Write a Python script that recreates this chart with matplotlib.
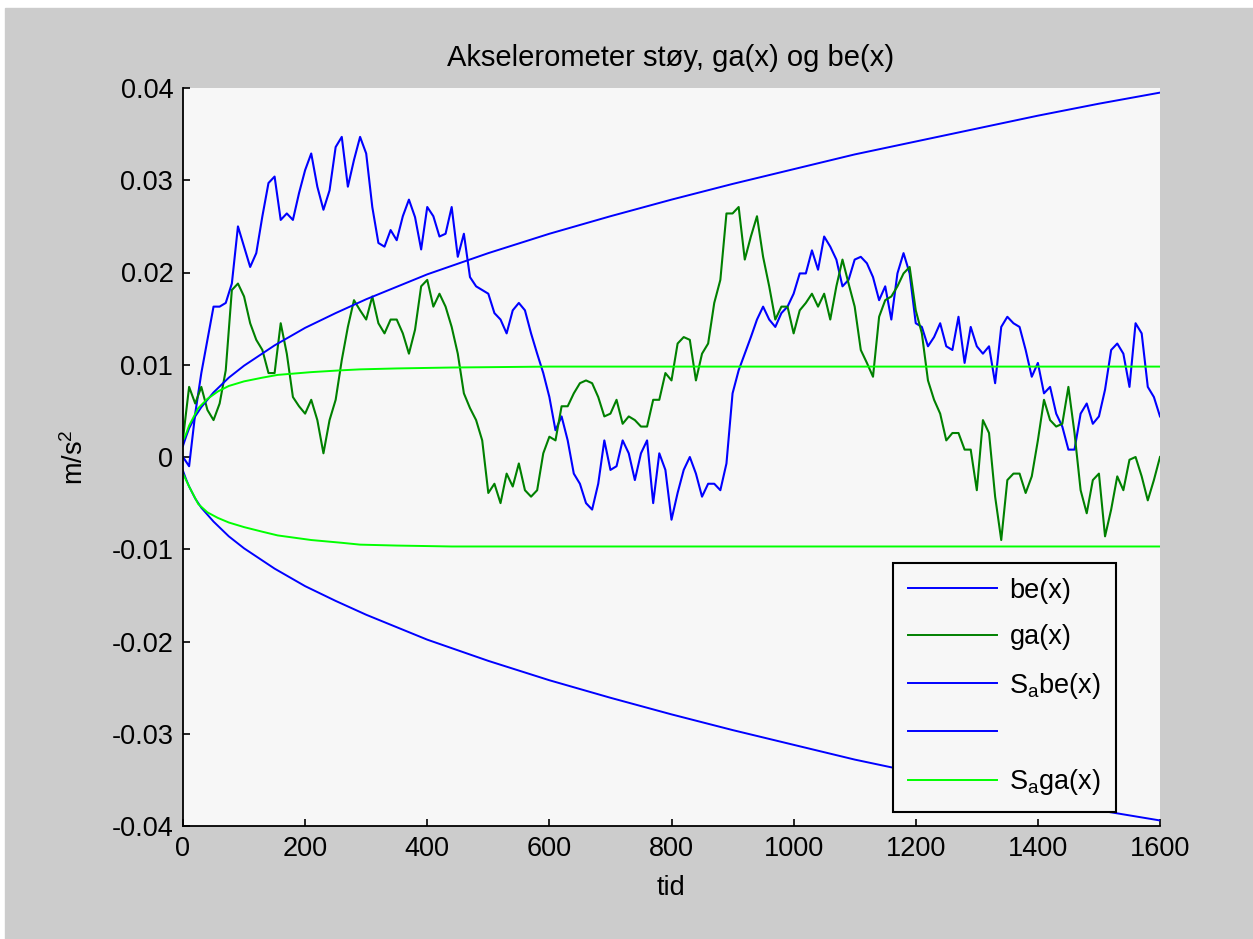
import numpy as np
import matplotlib
matplotlib.use("Agg")
import matplotlib.pyplot as plt
from matplotlib.lines import Line2D
from matplotlib.patches import Rectangle

plt.rcParams["font.family"] = ["Liberation Sans", "DejaVu Sans"]
plt.rcParams["mathtext.fontset"] = "custom"
plt.rcParams["mathtext.rm"] = "Liberation Sans"

# time axis (samples every 10 s)
tid = np.arange(0, 1610, 10)

# bias estimate be(x)
be = [
    0.0000, -0.0010, 0.0047, 0.0091, 0.0127, 0.0163, 0.0163, 0.0167, 0.0188, 0.0250,
    0.0228, 0.0206, 0.0221, 0.0261, 0.0297, 0.0304, 0.0257, 0.0264, 0.0257, 0.0286,
    0.0311, 0.0329, 0.0293, 0.0268, 0.0289, 0.0336, 0.0347, 0.0293, 0.0322, 0.0347,
    0.0329, 0.0271, 0.0232, 0.0228, 0.0246, 0.0235, 0.0261, 0.0279, 0.0260, 0.0225,
    0.0271, 0.0261, 0.0239, 0.0242, 0.0271, 0.0217, 0.0242, 0.0195, 0.0185, 0.0181,
    0.0177, 0.0156, 0.0149, 0.0134, 0.0159, 0.0167, 0.0159, 0.0134, 0.0112, 0.0091,
    0.0065, 0.0029, 0.0044, 0.0018, -0.0018, -0.0029, -0.0050, -0.0057, -0.0029, 0.0018,
    -0.0014, -0.0010, 0.0018, 0.0004, -0.0025, 0.0004, 0.0018, -0.0050, 0.0004, -0.0014,
    -0.0068, -0.0039, -0.0014, 0.0000, -0.0018, -0.0043, -0.0029, -0.0029, -0.0036, -0.0007,
    0.0069, 0.0094, 0.0112, 0.0130, 0.0149, 0.0163, 0.0149, 0.0141, 0.0156, 0.0163,
    0.0177, 0.0199, 0.0199, 0.0224, 0.0203, 0.0239, 0.0228, 0.0214, 0.0185, 0.0192,
    0.0214, 0.0217, 0.0210, 0.0195, 0.0170, 0.0185, 0.0149, 0.0199, 0.0221, 0.0199,
    0.0145, 0.0141, 0.0120, 0.0130, 0.0145, 0.0120, 0.0116, 0.0152, 0.0102, 0.0141,
    0.0120, 0.0112, 0.0120, 0.0080, 0.0141, 0.0152, 0.0145, 0.0141, 0.0116, 0.0087,
    0.0102, 0.0069, 0.0076, 0.0047, 0.0033, 0.0008, 0.0008, 0.0047, 0.0058, 0.0036,
    0.0044, 0.0073, 0.0116, 0.0123, 0.0112, 0.0076, 0.0145, 0.0134, 0.0076, 0.0065,
    0.0044,
]

# Gauss-Markov noise ga(x)
ga = [
    0.0020, 0.0076, 0.0058, 0.0076, 0.0051, 0.0040, 0.0058, 0.0094, 0.0181, 0.0188,
    0.0174, 0.0145, 0.0127, 0.0116, 0.0091, 0.0091, 0.0145, 0.0112, 0.0065, 0.0055,
    0.0047, 0.0062, 0.0040, 0.0004, 0.0040, 0.0062, 0.0105, 0.0141, 0.0170, 0.0159,
    0.0149, 0.0174, 0.0145, 0.0134, 0.0149, 0.0149, 0.0134, 0.0112, 0.0138, 0.0185,
    0.0192, 0.0163, 0.0177, 0.0163, 0.0141, 0.0112, 0.0069, 0.0053, 0.0040, 0.0018,
    -0.0039, -0.0029, -0.0050, -0.0018, -0.0032, -0.0007, -0.0036, -0.0043, -0.0036, 0.0004,
    0.0022, 0.0018, 0.0055, 0.0055, 0.0069, 0.0080, 0.0083, 0.0080, 0.0065, 0.0044,
    0.0047, 0.0062, 0.0036, 0.0044, 0.0040, 0.0033, 0.0033, 0.0062, 0.0062, 0.0091,
    0.0083, 0.0123, 0.0130, 0.0127, 0.0083, 0.0112, 0.0123, 0.0167, 0.0192, 0.0264,
    0.0264, 0.0271, 0.0214, 0.0239, 0.0261, 0.0217, 0.0185, 0.0149, 0.0163, 0.0163,
    0.0134, 0.0159, 0.0167, 0.0177, 0.0163, 0.0177, 0.0149, 0.0185, 0.0214, 0.0188,
    0.0163, 0.0116, 0.0102, 0.0087, 0.0152, 0.0170, 0.0174, 0.0185, 0.0199, 0.0206,
    0.0159, 0.0134, 0.0083, 0.0062, 0.0047, 0.0018, 0.0026, 0.0026, 0.0008, 0.0008,
    -0.0036, 0.0040, 0.0026, -0.0043, -0.0090, -0.0025, -0.0018, -0.0018, -0.0039, -0.0021,
    0.0018, 0.0062, 0.0040, 0.0033, 0.0036, 0.0076, 0.0026, -0.0036, -0.0061, -0.0025,
    -0.0018, -0.0086, -0.0057, -0.0021, -0.0036, -0.0003, 0.0000, -0.0021, -0.0047, -0.0025,
    0.0000,
]

# standard deviation envelope for be(x)
sa_be_t = [0, 5, 10, 20, 30, 50, 75, 100, 150, 200, 250, 300, 400, 500, 600,
           700, 800, 900, 1000, 1100, 1200, 1300, 1400, 1500, 1600]
sa_be_upper = [0.0012, 0.0022, 0.0031, 0.0044, 0.0054, 0.0070, 0.0086, 0.0099, 0.0121,
               0.0140, 0.0156, 0.0171, 0.0198, 0.0221, 0.0242, 0.0261, 0.0279, 0.0296,
               0.0312, 0.0328, 0.0342, 0.0356, 0.0370, 0.0383, 0.0395]
sa_be_lower = [-0.0015, -0.0024, -0.0032, -0.0045, -0.0055, -0.0070, -0.0086, -0.0099,
               -0.0121, -0.0140, -0.0156, -0.0171, -0.0198, -0.0221, -0.0242, -0.0261,
               -0.0279, -0.0296, -0.0312, -0.0328, -0.0342, -0.0356, -0.0370, -0.0383,
               -0.0394]

# standard deviation envelope for ga(x)
sa_ga_t = [0, 5, 10, 25, 40, 57, 75, 100, 130, 155, 210, 260, 290, 350, 440,
           600, 800, 1000, 1200, 1400, 1600]
sa_ga_upper = [0.0018, 0.0025, 0.0034, 0.0053, 0.0063, 0.0071, 0.0077, 0.0082, 0.0086,
               0.0089, 0.0092, 0.0094, 0.0095, 0.0096, 0.0097, 0.0098, 0.0098, 0.0098,
               0.0098, 0.0098, 0.0098]
sa_ga_lower = [-0.0018, -0.0025, -0.0032, -0.0051, -0.0060, -0.0066, -0.0071, -0.0076,
               -0.0081, -0.0085, -0.0090, -0.0093, -0.0095, -0.0096, -0.0097, -0.0097,
               -0.0097, -0.0097, -0.0097, -0.0097, -0.0097]

yticks = [-0.04, -0.03, -0.02, -0.01, 0, 0.01, 0.02, 0.03, 0.04]
ytick_labels = ["-0.04", "-0.03", "-0.02", "-0.01", "0", "0.01", "0.02", "0.03", "0.04"]
xticks = [0, 200, 400, 600, 800, 1000, 1200, 1400, 1600]

BLUE = "#0000ff"
DGREEN = "#008000"
LGREEN = "#00ff00"
FS = 19.5

fig = plt.figure(figsize=(12.53, 9.39), dpi=100, facecolor="white")
fig.patches.append(Rectangle((5 / 1253, 0), 1, (939 - 8) / 939,
                             transform=fig.transFigure, color="#cccccc", zorder=-10))

ax = fig.add_axes([183 / 1253, 113 / 939, 977 / 1253, 738 / 939])
ax.set_facecolor("#f7f7f7")

ax.plot(tid, be, color=BLUE, lw=1.5)
ax.plot(tid, ga, color=DGREEN, lw=1.5)
ax.plot(sa_be_t, sa_be_upper, color=BLUE, lw=1.4)
ax.plot(sa_be_t, sa_be_lower, color=BLUE, lw=1.4)
ax.plot(sa_ga_t, sa_ga_upper, color=LGREEN, lw=1.4)
ax.plot(sa_ga_t, sa_ga_lower, color=LGREEN, lw=1.4)

ax.set_xlim(0, 1600)
ax.set_ylim(-0.04, 0.04)
ax.set_xticks(xticks)
ax.set_xticklabels([str(x) for x in xticks])
ax.set_yticks(yticks)
ax.set_yticklabels(ytick_labels)
ax.tick_params(direction="in", length=5, width=1.2, labelsize=FS, pad=7,
               colors="black")
ax.spines["top"].set_visible(False)
ax.spines["right"].set_visible(False)
for side in ["left", "bottom"]:
    ax.spines[side].set_linewidth(1.3)

fig.text(671 / 1253, 1 - 58 / 939, "Akselerometer støy, ga(x) og be(x)",
         ha="center", va="center", fontsize=21)
fig.text(671 / 1253, 1 - 888 / 939, "tid", ha="center", va="center", fontsize=FS)
fig.text(75 / 1253, 1 - 457 / 939, r"m/s$^\mathregular{2}$", ha="center",
         va="center", rotation=90, fontsize=FS)

handles = [
    Line2D([], [], color=BLUE, lw=1.4),
    Line2D([], [], color=DGREEN, lw=1.4),
    Line2D([], [], color=BLUE, lw=1.4),
    Line2D([], [], color=BLUE, lw=1.4),
    Line2D([], [], color=LGREEN, lw=1.4),
]
labels = ["be(x)", "ga(x)", r"S$_\mathregular{a}$be(x)", " ", r"S$_\mathregular{a}$ga(x)"]
leg = ax.legend(handles, labels, loc="upper left",
                bbox_to_anchor=((893 - 183) / 977, (826 - 563) / 738),
                borderaxespad=0, fontsize=FS, handlelength=3.3, handletextpad=0.45,
                labelspacing=0.75, borderpad=0.55, fancybox=False, framealpha=1)
leg.get_frame().set_edgecolor("black")
leg.get_frame().set_linewidth(1.5)
leg.get_frame().set_facecolor("#f7f7f7")

fig.savefig("out.png", dpi=100, facecolor=fig.get_facecolor())
